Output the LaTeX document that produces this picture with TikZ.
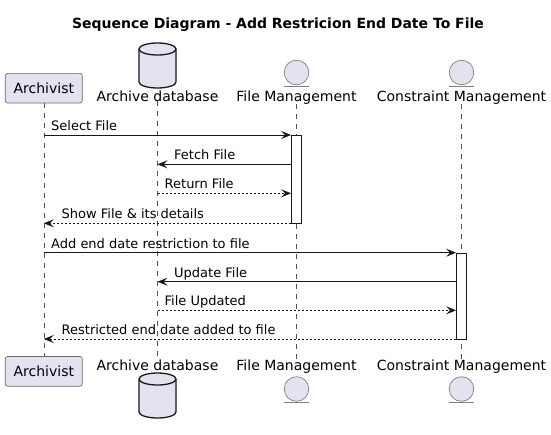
\documentclass[tikz,border=0pt]{standalone}
\usepackage{fontspec}
\setmainfont{DejaVu Sans}
\usetikzlibrary{arrows.meta}
\definecolor{pfill}{HTML}{E2E2F0}
\definecolor{ink}{HTML}{181818}
\tikzset{
  msg/.style={draw=ink,line width=0.9pt,-{Stealth[length=10pt,width=8pt,inset=4pt]}},
  ret/.style={msg,dash pattern=on 2pt off 2pt},
  lbl/.style={font=\fontsize{13}{15}\selectfont,anchor=base west,inner sep=0pt,text=black},
  headlbl/.style={font=\fontsize{14}{16}\selectfont,inner sep=0pt,anchor=base},
  pbox/.style={draw=ink!65,fill=pfill,rounded corners=2.5pt,line width=0.7pt,
    minimum width=77pt,minimum height=29.7pt,inner sep=0pt,font=\fontsize{14}{16}\selectfont},
  life/.style={draw=ink!75,line width=0.5pt,dash pattern=on 5pt off 5pt},
  actbox/.style={draw=ink,fill=white,line width=0.8pt},
  dbcyl/.pic={
    \draw[fill=pfill,draw=ink,line width=1.3pt]
      (-18.5,-16.5) -- (-18.5,16.5) arc[start angle=180,end angle=0,x radius=18.5,y radius=6]
      -- (18.5,-16.5) arc[start angle=0,end angle=-180,x radius=18.5,y radius=6] -- cycle;
    \draw[draw=ink,line width=1.3pt]
      (-18.5,-16.5) arc[start angle=180,end angle=0,x radius=18.5,y radius=6];
  },
  entity/.pic={
    \draw[fill=pfill,draw=ink!55,line width=0.7pt] (0,0) circle[radius=12.3];
    \draw[draw=ink!55,line width=0.9pt] (-12.5,13.5) -- (12.5,13.5);
  }
}
\begin{document}
\begin{tikzpicture}[x=1pt,y=-1pt]
\useasboundingbox (0,0) rectangle (551,434);

% title
\node[font=\fontsize{14}{16}\selectfont\bfseries,anchor=base,inner sep=0pt] (title) at (278,28.3)
  {Sequence Diagram - Add Restricion End Date To File};

% lifelines x
\def\xa{43.8}\def\xb{157.5}\def\xc{296.5}\def\xd{461.5}

% top heads
\node[pbox] (archTop) at (\xa,88.2) {Archivist};
\pic at (\xb,65.5) {dbcyl};
\node[headlbl] (dbTop) at (\xb,101) {Archive database};
\pic at (\xc,72.5) {entity};
\node[headlbl] (fmTop) at (\xc,101) {File Management};
\pic at (\xd,72.5) {entity};
\node[headlbl] (cmTop) at (\xd,101) {Constraint Management};

% bottom heads
\node[pbox] (archBot) at (\xa,371.3) {Archivist};
\node[headlbl] (dbBot) at (\xb,370) {Archive database};
\pic at (\xb,395.5) {dbcyl};
\node[headlbl] (fmBot) at (\xc,370) {File Management};
\pic at (\xc,389) {entity};
\node[headlbl] (cmBot) at (\xd,370) {Constraint Management};
\pic at (\xd,389) {entity};

% lifelines
\draw[life] (archTop.south) -- (archBot.north);
\draw[life] (dbTop.south) -- (dbBot.north);
\draw[life] (fmTop.south -| \xc,0) -- (fmBot.north -| \xc,0);
\draw[life] (cmTop.south -| \xd,0) -- (cmBot.north -| \xd,0);

% activation boxes
\node[actbox,minimum width=10pt,minimum height=88.3pt,inner sep=0pt,anchor=north] (fmAct) at (\xc,135) {};
\node[actbox,minimum width=10pt,minimum height=86.3pt,inner sep=0pt,anchor=north] (cmAct) at (\xd,252.7) {};

% message end points
\coordinate (a1) at (\xa,135);    \coordinate (f1) at (fmAct.west |- a1);
\coordinate (f2) at (fmAct.west |- 0,164.3); \coordinate (b2) at (\xb,164.3);
\coordinate (b3) at (\xb,193.3);  \coordinate (f3) at (fmAct.west |- b3);
\coordinate (f4) at (fmAct.west |- 0,223.3); \coordinate (a4) at (\xa,223.3);
\coordinate (a5) at (\xa,252.7);  \coordinate (c5) at (cmAct.west |- a5);
\coordinate (c6) at (cmAct.west |- 0,281.7); \coordinate (b6) at (\xb,281.7);
\coordinate (b7) at (\xb,310.3);  \coordinate (c7) at (cmAct.west |- b7);
\coordinate (c8) at (cmAct.west |- 0,339);   \coordinate (a8) at (\xa,339);

% messages
\draw[msg] (a1) -- (f1);
\node[lbl] (l1) at (51,130.5) {Select File};
\draw[msg] (f2) -- (b2);
\node[lbl] (l2) at (174,159.8) {Fetch File};
\draw[ret] (b3) -- (f3);
\node[lbl] (l3) at (164.5,188.8) {Return File};
\draw[ret] (f4) -- (a4);
\node[lbl] (l4) at (61.5,218.8) {Show File \& its details};
\draw[msg] (a5) -- (c5);
\node[lbl] (l5) at (51,248.2) {Add end date restriction to file};
\draw[msg] (c6) -- (b6);
\node[lbl] (l6) at (174,277.2) {Update File};
\draw[ret] (b7) -- (c7);
\node[lbl] (l7) at (164.5,305.8) {File Updated};
\draw[ret] (c8) -- (a8);
\node[lbl] (l8) at (61.5,334.5) {Restricted end date added to file};
\end{tikzpicture}
\end{document}
